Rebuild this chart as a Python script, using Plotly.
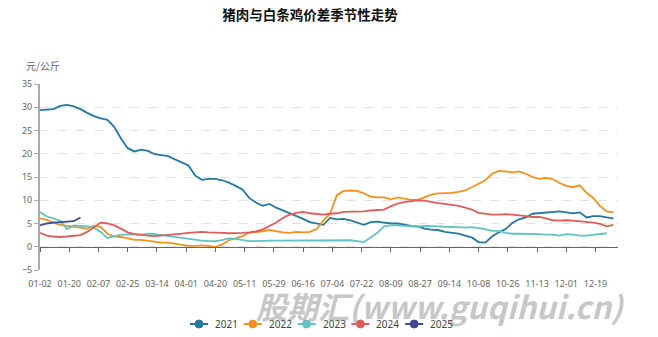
import plotly.graph_objects as go

# Category axis: trading-day index, labelled every 13 days
tick_labels = ["01-02", "01-20", "02-07", "02-25", "03-14", "04-01", "04-20",
               "05-11", "05-29", "06-16", "07-04", "07-22", "08-09", "08-27",
               "09-14", "10-08", "10-26", "11-13", "12-01", "12-19"]
label_step = 13
n_days = 257
sample_step = 3  # each series is recorded every 3 trading days

# Pork minus white-strip chicken price spread (yuan/kg)
spread_2021 = [29.4, 29.5, 29.6, 30.3, 30.5, 30.2, 29.6, 28.8, 28.1, 27.6,
               27.3, 25.8, 23.3, 21.2, 20.5, 20.9, 20.6, 19.9, 19.7, 19.5,
               18.8, 18.2, 17.5, 15.3, 14.4, 14.6, 14.6, 14.3, 13.8, 13.1,
               12.3, 10.5, 9.5, 8.8, 9.2, 8.4, 7.8, 7.2, 6.7, 6.0,
               5.3, 5.0, 4.7, 6.2, 5.9, 6.0, 5.7, 5.2, 4.7, 5.3,
               5.4, 5.2, 5.0, 5.0, 4.7, 4.5, 4.4, 3.9, 3.7, 3.6,
               3.2, 3.0, 2.8, 2.4, 2.0, 1.0, 0.9, 2.2, 3.1, 3.8,
               5.1, 5.9, 6.3, 7.1, 7.2, 7.4, 7.4, 7.6, 7.4, 7.2,
               7.4, 6.3, 6.6, 6.6, 6.3, 6.1]
spread_2022 = [6.1, 5.8, 5.2, 4.7, 4.5, 4.3, 4.0, 3.9, 4.5, 4.3,
               2.8, 2.2, 2.1, 1.8, 1.5, 1.5, 1.3, 1.1, 0.9, 0.9,
               0.7, 0.4, 0.2, 0.2, 0.3, 0.2, -0.1, 0.5, 1.4, 1.8,
               2.3, 3.0, 3.1, 3.3, 3.6, 3.3, 3.1, 3.0, 3.2, 3.1,
               3.2, 3.8, 5.6, 7.1, 11.1, 12.0, 12.1, 12.0, 11.5, 10.8,
               10.6, 10.6, 10.2, 10.6, 10.4, 10.1, 10.1, 10.6, 11.2, 11.5,
               11.5, 11.6, 11.8, 12.1, 12.8, 13.5, 14.3, 15.7, 16.3, 16.2,
               16.0, 16.2, 15.7, 15.0, 14.6, 14.8, 14.5, 13.7, 13.1, 12.8,
               13.2, 11.6, 10.5, 8.8, 7.6, 7.4]
spread_2023 = [7.5, 6.5, 6.1, 5.6, 3.8, 4.6, 4.5, 4.4, 4.1, 3.2,
               1.9, 2.3, 2.6, 2.6, 2.7, 2.6, 2.8, 2.7, 2.5, 2.3,
               2.1, 1.9, 1.6, 1.4, 1.3, 1.2, 1.2, 1.4, 1.8, 1.7,
               1.5, 1.2, 1.2, 1.3, 1.3, 1.3, 1.3, 1.4, 1.3, 1.3,
               1.3, 1.3, 1.4, 1.3, 1.3, 1.3, 1.4, 1.2, 1.0, 2.0,
               3.0, 4.4, 4.6, 4.6, 4.5, 4.4, 4.3, 4.5, 4.5, 4.4,
               4.3, 4.3, 4.2, 4.1, 4.2, 4.0, 3.8, 3.4, 3.4, 3.0,
               2.8, 2.8, 2.8, 2.8, 2.7, 2.6, 2.6, 2.4, 2.7, 2.6,
               2.4, 2.4, 2.6, 2.7, 2.9]
spread_2024 = [3.0, 2.4, 2.2, 2.1, 2.2, 2.3, 2.5, 3.2, 4.2, 5.2,
               5.0, 4.6, 3.9, 3.1, 2.7, 2.5, 2.4, 2.3, 2.4, 2.5,
               2.7, 2.8, 3.0, 3.1, 3.2, 3.1, 3.1, 3.0, 2.9, 2.9,
               3.0, 3.1, 3.3, 3.7, 4.5, 5.2, 6.2, 6.9, 7.3, 7.5,
               7.2, 7.0, 6.9, 7.1, 7.2, 7.5, 7.5, 7.6, 7.6, 7.8,
               7.9, 8.0, 8.7, 9.3, 9.6, 9.8, 10.0, 9.9, 9.6, 9.4,
               9.2, 9.0, 8.8, 8.4, 8.0, 7.3, 7.1, 6.9, 6.9, 7.0,
               6.9, 6.8, 6.6, 6.4, 6.4, 6.1, 5.7, 5.6, 5.7, 5.6,
               5.5, 5.3, 5.2, 4.9, 4.4, 4.7]
spread_2025 = [4.6, 5.0, 5.2, 5.3, 5.3, 5.5, 6.3]

years = ["2021", "2022", "2023", "2024", "2025"]
series = [spread_2021, spread_2022, spread_2023, spread_2024, spread_2025]
colors = ["#23789f", "#f5901f", "#5ec3c1", "#e05b5c", "#3e4a8e"]

W, H = 658, 337
ML, MR, MT, MB = 40, 40, 84, 67
plot_w, plot_h = W - ML - MR, H - MT - MB


def px_to_paper(px, py):
    return (px - ML) / plot_w, 1 - (py - MT) / plot_h


fig = go.Figure()

for name, vals, col in zip(years, series, colors):
    xs = [i * sample_step for i in range(len(vals))]
    fig.add_trace(go.Scatter(
        x=xs, y=vals, mode="lines", name=name, showlegend=False,
        line=dict(color=col, width=1.8), hoverinfo="skip",
    ))

# invisible trace that carries the zero-line axis
fig.add_trace(go.Scatter(x=[None], y=[None], xaxis="x2", showlegend=False,
                         hoverinfo="skip"))

tickvals = [i * label_step for i in range(len(tick_labels))]
tick_font = dict(family="Noto Sans, DejaVu Sans, sans-serif", size=9, color="#666")

fig.update_layout(
    width=W, height=H,
    margin=dict(l=ML, r=MR, t=MT, b=MB, autoexpand=False),
    paper_bgcolor="white", plot_bgcolor="white",
    showlegend=False,
    title=dict(
        text="<b>猪肉与白条鸡价差季节性走势</b>",
        x=0.471, xref="container", xanchor="center",
        y=0.955, yref="container", yanchor="middle",
        font=dict(family="Noto Sans CJK SC, sans-serif", size=13.5, color="#111"),
    ),
    xaxis=dict(
        range=[0, n_days], tickvals=tickvals, ticktext=tick_labels,
        showline=False, showgrid=False, zeroline=False, ticks="",
        tickfont=tick_font, ticklabelstandoff=7,
    ),
    xaxis2=dict(
        overlaying="x", anchor="free", position=5 / 40,
        range=[0, n_days], tickvals=tickvals, showticklabels=False,
        showline=True, linecolor="#666", linewidth=1,
        ticks="outside", ticklen=4, tickcolor="#666", tickwidth=1,
        showgrid=False, zeroline=False,
    ),
    yaxis=dict(
        range=[-5, 35], dtick=5, tick0=0,
        showline=True, linecolor="#aaa", linewidth=2,
        ticks="outside", ticklen=4, tickcolor="#aaa", tickwidth=1,
        showgrid=True, gridcolor="#e2e2e2", griddash="dash", gridwidth=1,
        zeroline=False, tickfont=tick_font,
    ),
)

# watermark sits behind the legend row
wx, wy = px_to_paper(254, 305)
fig.add_annotation(
    text="<b><i>股期汇(www.guqihui.cn)</i></b>", xref="paper", yref="paper",
    x=wx, y=wy, xanchor="left", yanchor="middle", showarrow=False,
    font=dict(family="Noto Sans CJK SC, sans-serif", size=31,
              color="rgba(150,150,150,0.55)"),
)

# compact legend row: short line with a circle, then the year
legend_left, legend_pitch, legend_y = 190, 53.8, 324
for i, (name, col) in enumerate(zip(years, colors)):
    x0 = legend_left + i * legend_pitch
    lx0, ly = px_to_paper(x0, legend_y)
    lx1, _ = px_to_paper(x0 + 18, legend_y)
    fig.add_shape(type="line", xref="paper", yref="paper",
                  x0=lx0, x1=lx1, y0=ly, y1=ly,
                  line=dict(color=col, width=2))
    cx0, cy0 = px_to_paper(x0 + 9 - 4, legend_y - 4)
    cx1, cy1 = px_to_paper(x0 + 9 + 4, legend_y + 4)
    fig.add_shape(type="circle", xref="paper", yref="paper",
                  x0=cx0, x1=cx1, y0=cy1, y1=cy0,
                  fillcolor=col, line=dict(color=col, width=1))
    tx, ty = px_to_paper(x0 + 23, legend_y)
    fig.add_annotation(
        text=name, xref="paper", yref="paper", x=tx, y=ty,
        xanchor="left", yanchor="middle", showarrow=False,
        font=dict(family="Noto Sans, DejaVu Sans, sans-serif", size=10, color="#444"),
    )

ux, uy = px_to_paper(24, 65)
fig.add_annotation(
    text="元/公斤", xref="paper", yref="paper", x=ux, y=uy,
    xanchor="left", yanchor="middle", showarrow=False,
    font=dict(family="Noto Sans CJK SC, sans-serif", size=10, color="#666"),
)

fig.write_html("out.html")
